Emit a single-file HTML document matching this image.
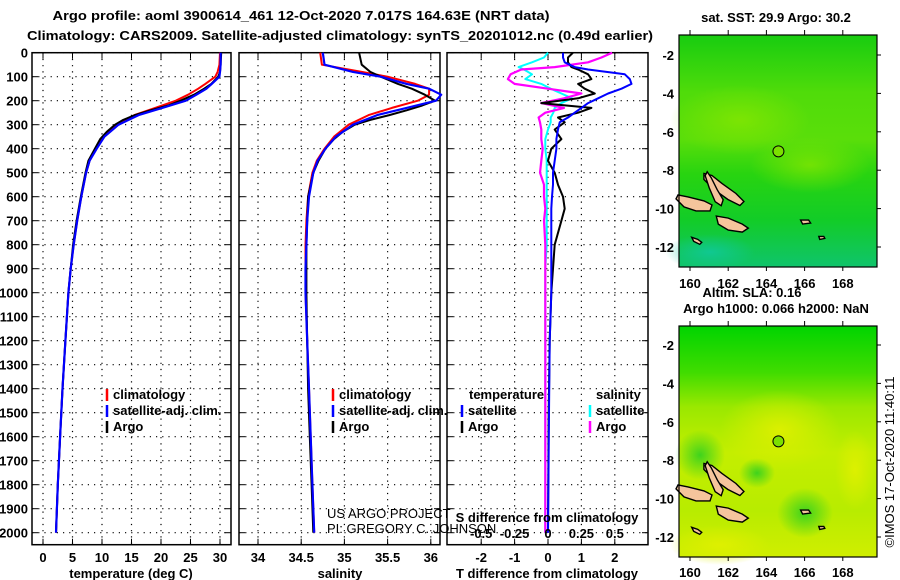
<!DOCTYPE html>
<html><head><meta charset="utf-8">
<style>
html,body{margin:0;padding:0;background:#fff;}
svg{display:block;font-family:"Liberation Sans",sans-serif;}
.b{font-weight:bold;font-size:13px;}
</style></head>
<body>
<svg id="chart" width="900" height="580" viewBox="0 0 900 580" xmlns="http://www.w3.org/2000/svg">
<defs>
<linearGradient id="m1g" x1="0" y1="0" x2="0" y2="1">
<stop offset="0" stop-color="#18cc10"/><stop offset="0.25" stop-color="#50dc0a"/><stop offset="0.45" stop-color="#5ade0a"/>
<stop offset="0.6" stop-color="#28d410"/><stop offset="0.8" stop-color="#12cc28"/><stop offset="1" stop-color="#10c46c"/>
</linearGradient>
<radialGradient id="m1b" cx="0.5" cy="0.5" r="0.5"><stop offset="0" stop-color="#8ce800" stop-opacity="0.7"/><stop offset="1" stop-color="#8ce800" stop-opacity="0"/></radialGradient>
<radialGradient id="m1c" cx="0.5" cy="0.5" r="0.5"><stop offset="0" stop-color="#10c8a0" stop-opacity="0.8"/><stop offset="1" stop-color="#10c8a0" stop-opacity="0"/></radialGradient>
<linearGradient id="m2g" x1="0" y1="0" x2="0" y2="1">
<stop offset="0" stop-color="#00d400"/><stop offset="0.2" stop-color="#40dc00"/><stop offset="0.35" stop-color="#9ae800"/>
<stop offset="0.55" stop-color="#c4ee00"/><stop offset="0.8" stop-color="#b8ec00"/><stop offset="1" stop-color="#d0ee00"/>
</linearGradient>
<radialGradient id="m2c" cx="0.5" cy="0.5" r="0.5"><stop offset="0" stop-color="#30d020" stop-opacity="0.9"/><stop offset="1" stop-color="#30d020" stop-opacity="0"/></radialGradient>
<radialGradient id="m2y" cx="0.5" cy="0.5" r="0.5"><stop offset="0" stop-color="#e0f000" stop-opacity="0.9"/><stop offset="1" stop-color="#e0f000" stop-opacity="0"/></radialGradient>
</defs>

<text class="b" x="301" y="20" text-anchor="middle" font-size="14" textLength="497" lengthAdjust="spacingAndGlyphs">Argo profile: aoml 3900614_461 12-Oct-2020 7.017S 164.63E (NRT data)</text>
<text class="b" x="340" y="40" text-anchor="middle" font-size="14" textLength="626" lengthAdjust="spacingAndGlyphs">Climatology: CARS2009. Satellite-adjusted climatology: synTS_20201012.nc (0.49d earlier)</text>

<g id="panels"></g>
<g id="maps"></g>

<text x="327" y="518" font-size="13" fill="#000">US ARGO PROJECT</text>
<text x="327" y="533" font-size="13" fill="#000">PI: GREGORY C. JOHNSON</text>
<text class="b" x="547" y="522" text-anchor="middle">S difference from climatology</text>

<text x="894" y="462" font-size="13" text-anchor="middle" transform="rotate(-90 894 462)">©IMOS 17-Oct-2020 11:40:11</text>
</svg>

<script>
// ---- data ----
const depthTicks = [0,100,200,300,400,500,600,700,800,900,1000,1100,1200,1300,1400,1500,1600,1700,1800,1900,2000];
const tTicks = [0,5,10,15,20,25,30];
const sTicks = [34,34.5,35,35.5,36];
const sTickLabels = ["34","34.5","35","35.5","36"];
const dtTicks = [-2,-1,0,1,2];
const dsTicks = [-0.5,-0.25,0,0.25,0.5];
const dsTickLabels = ["-0.5","-0.25","0","0.25","0.5"];

const argoDepth = [0,50,80,100,130,150,175,200,220,240,260,280,300,330,360,400,450,500,600,700,800,900,1000,1200,1400,1600,1800,2000];
const argoT    = [30.2,30.1,30.0,29.7,28.5,27.3,25.6,23.3,21.2,18.2,15.6,13.6,12.2,10.8,9.7,8.8,7.7,7.2,6.4,5.7,5.1,4.7,4.3,3.8,3.3,2.9,2.5,2.2];
const climDepth = [0,50,80,100,130,150,175,200,230,260,300,350,400,450,500,600,700,800,900,1000,1200,1400,1600,1800,2000];
const climT    = [30.0,29.9,29.6,29.2,27.5,26.3,24.6,22.5,19.0,15.5,12.4,10.2,9.0,7.9,7.3,6.5,5.8,5.2,4.7,4.3,3.8,3.3,2.9,2.5,2.2];
const satT     = [30.1,30.1,30.0,29.9,28.6,27.7,26.0,24.2,20.2,16.2,12.8,10.4,9.1,7.9,7.3,6.5,5.8,5.2,4.7,4.3,3.8,3.3,2.9,2.5,2.2];

const argoS    = [35.17,35.2,35.3,35.42,35.62,35.78,35.93,36.05,35.9,35.72,35.52,35.3,35.12,34.98,34.88,34.78,34.7,34.64,34.58,34.57,34.56,34.56,34.56,34.57,34.58,34.6,34.62,34.64];
const climS    = [34.72,34.74,35.2,35.5,35.82,35.98,35.98,35.85,35.55,35.28,35.05,34.88,34.77,34.68,34.63,34.58,34.56,34.55,34.55,34.55,34.57,34.59,34.61,34.63,34.65];
const satS     = [34.75,34.77,35.1,35.42,35.72,35.98,36.12,36.06,35.72,35.38,35.1,34.9,34.78,34.69,34.64,34.59,34.57,34.56,34.55,34.55,34.57,34.59,34.61,34.63,34.65];

const diffDepth = [0,20,40,60,70,90,110,130,150,170,190,210,230,250,270,290,320,360,400,450,500,550,600,650,700,800,900,1000,1200,1500,2000];
const dTsat  = [0.45,0.45,0.5,0.8,1.2,2.3,2.45,2.5,2.2,1.8,1.5,1.2,1.0,0.8,0.6,0.35,0.3,0.25,0.25,0.2,0.15,0.15,0.12,0.1,0.1,0.1,0.1,0.1,0.05,0.03,0.0];
const dTargo = [0.75,0.6,0.6,0.7,0.9,1.2,1.3,0.9,1.1,1.4,0.9,-0.2,1.3,0.9,0.3,0.5,0.2,0.4,0.1,0.0,0.2,0.3,0.45,0.5,0.4,0.2,0.15,0.1,0.05,0.02,0.0];
const dSsat  = [0.0,-0.03,-0.12,-0.22,-0.18,-0.12,-0.17,-0.05,0.02,0.1,0.18,0.1,0.05,0.04,0.02,0.02,0.0,-0.02,-0.02,-0.01,-0.01,-0.01,-0.01,-0.01,-0.01,-0.01,-0.02,-0.02,-0.02,-0.02,-0.02];
const dSargo = [0.48,0.4,0.3,0.05,-0.2,-0.28,-0.3,-0.25,0.0,0.25,0.12,-0.05,0.12,-0.02,-0.07,-0.06,-0.05,-0.05,-0.04,-0.05,-0.06,-0.03,-0.03,-0.02,-0.03,-0.02,-0.02,-0.02,-0.02,-0.02,-0.02];

// ---- geometry ----
const NS = "http://www.w3.org/2000/svg";
const yTop = 52.7, pxPerM = 0.24, yBot = yTop + 2050*pxPerM;
const yD = d => yTop + d*pxPerM;
const xT = t => 43 + t*5.9;
const xS = s => 258 + (s-34)*86.4;
const xDT = v => 548 + v*33.4;
const xDS = v => 548 + v*4*33.4;

function el(tag, attrs, parent){
  const e = document.createElementNS(NS, tag);
  for (const k in attrs) e.setAttribute(k, attrs[k]);
  parent.appendChild(e);
  return e;
}
const panels = document.getElementById('panels');

function panel(name, x0, x1, gridX){
  const g = el('g', {}, panels);
  
  
  depthTicks.forEach(d => {
    el('line', {x1:x0, x2:x1, y1:yD(d), y2:yD(d), stroke:'#000', 'stroke-width':1.2, 'stroke-dasharray':'1.2 5'}, g);
    el('line', {x1:x0, x2:x0+6, y1:yD(d), y2:yD(d), stroke:'#000', 'stroke-width':1}, g);
    el('line', {x1:x1-6, x2:x1, y1:yD(d), y2:yD(d), stroke:'#000', 'stroke-width':1}, g);
  });
  gridX.forEach(x => {
    el('line', {x1:x, x2:x, y1:yTop, y2:yBot, stroke:'#000', 'stroke-width':1.2, 'stroke-dasharray':'1.2 5'}, g);
    el('line', {x1:x, x2:x, y1:yTop, y2:yTop+6, stroke:'#000', 'stroke-width':1}, g);
    el('line', {x1:x, x2:x, y1:yBot-6, y2:yBot, stroke:'#000', 'stroke-width':1}, g);
  });
  const fr = el('rect', {x:x0, y:yTop, width:x1-x0, height:yBot-yTop, fill:'none', stroke:'#000', 'stroke-width':1.5}, g);
  
  
  return g;
}
function line(g, name, depths, vals, fx, color, w){
  const pts = vals.map((v,i)=> fx(v).toFixed(1)+','+yD(depths[i]).toFixed(1)).join(' ');
  const p = el('polyline', {points:pts, fill:'none', stroke:color, 'stroke-width':w, 'stroke-linejoin':'round'}, g);
  
  
}
function text(g, name, x, y, s, anchor, cls){
  const t = el('text', {x:x, y:y, 'text-anchor':anchor||'start', class:cls||'b'}, g);
  t.textContent = s;
  
  
  return t;
}
function legendTick(g, name, x, y, color){
  const l = el('line', {x1:x, x2:x, y1:y-11, y2:y+1, stroke:color, 'stroke-width':2.5}, g);
  
  
}

// depth axis labels
const dAx = el('g', {}, panels);


depthTicks.forEach(d => text(dAx, 'depth-tick-label', 28, yD(d)+5, String(d), 'end'));

// panel 1: temperature
const p1 = panel('temperature-panel', 32, 231, tTicks.map(xT));
line(p1, 'temperature-climatology-line', climDepth, climT, xT, '#ff0000', 2);
line(p1, 'temperature-argo-line', argoDepth, argoT, xT, '#000000', 2);
line(p1, 'temperature-satellite-line', climDepth, satT, xT, '#0000ff', 2.2);
tTicks.forEach(t => text(p1, 'temperature-tick-label', xT(t), 562, String(t), 'middle'));
text(p1, 'temperature-axis-title', 131, 578, 'temperature (deg C)', 'middle');
legendTick(p1, 'legend-climatology-marker', 107, 400, '#ff0000');
legendTick(p1, 'legend-satellite-marker', 107, 416, '#0000ff');
legendTick(p1, 'legend-argo-marker', 107, 432, '#000000');
text(p1, 'legend-climatology', 113, 399, 'climatology');
text(p1, 'legend-satellite', 113, 415, 'satellite-adj. clim.');
text(p1, 'legend-argo', 113, 431, 'Argo');

// panel 2: salinity
const p2 = panel('salinity-panel', 239, 440, sTicks.map(xS));
line(p2, 'salinity-climatology-line', climDepth, climS, xS, '#ff0000', 2);
line(p2, 'salinity-argo-line', argoDepth, argoS, xS, '#000000', 2);
line(p2, 'salinity-satellite-line', climDepth, satS, xS, '#0000ff', 2.2);
sTicks.forEach((s,i) => text(p2, 'salinity-tick-label', xS(s), 562, sTickLabels[i], 'middle'));
text(p2, 'salinity-axis-title', 340, 578, 'salinity', 'middle');
legendTick(p2, 'legend2-climatology-marker', 333, 400, '#ff0000');
legendTick(p2, 'legend2-satellite-marker', 333, 416, '#0000ff');
legendTick(p2, 'legend2-argo-marker', 333, 432, '#000000');
text(p2, 'legend2-climatology', 339, 399, 'climatology');
text(p2, 'legend2-satellite', 339, 415, 'satellite-adj. clim.');
text(p2, 'legend2-argo', 339, 431, 'Argo');

// panel 3: differences
const p3 = panel('difference-panel', 447, 648, dtTicks.map(xDT));
line(p3, 's-diff-satellite-line', diffDepth, dSsat, xDS, '#00ffff', 2);
line(p3, 's-diff-argo-line', diffDepth, dSargo, xDS, '#ff00ff', 2.2);
line(p3, 't-diff-argo-line', diffDepth, dTargo, xDT, '#000000', 2);
line(p3, 't-diff-satellite-line', diffDepth, dTsat, xDT, '#0000ff', 2);
dtTicks.forEach(v => text(p3, 't-diff-tick-label', xDT(v), 562, String(v), 'middle'));
dsTicks.forEach((v,i) => text(p3, 's-diff-tick-label', xDS(v), 538, dsTickLabels[i], 'middle'));
text(p3, 't-diff-axis-title', 547, 578, 'T difference from climatology', 'middle');
text(p3, 'legend3-temperature-header', 469, 399, 'temperature');
text(p3, 'legend3-salinity-header', 596, 399, 'salinity');
legendTick(p3, 'legend3-t-satellite-marker', 462, 416, '#0000ff');
legendTick(p3, 'legend3-t-argo-marker', 462, 432, '#000000');
text(p3, 'legend3-t-satellite', 468, 415, 'satellite');
text(p3, 'legend3-t-argo', 468, 431, 'Argo');
legendTick(p3, 'legend3-s-satellite-marker', 590, 416, '#00ffff');
legendTick(p3, 'legend3-s-argo-marker', 590, 432, '#ff00ff');
text(p3, 'legend3-s-satellite', 596, 415, 'satellite');
text(p3, 'legend3-s-argo', 596, 431, 'Argo');

// ---- maps ----
const lonTicks = [160,162,164,166,168];
const latTicks = [-2,-4,-6,-8,-10,-12];
const argoLon = 164.63, argoLat = -7.017;
const maps = document.getElementById('maps');
const xLon = lon => 690 + (lon-160)*19.1;

function map(name, top, lat2y, bottom, grad, blobs, title, titleY, lonLabelY){
  const g = el('g', {}, maps);
  
  
  const yLat = lat => lat2y + (-2 - lat)*19.2;
  el('rect', {x:679, y:top, width:198, height:bottom-top, fill:'url(#'+grad+')'}, g);
  blobs.forEach(b => el('ellipse', {cx:b[0], cy:b[1], rx:b[2], ry:b[3], fill:'url(#'+b[4]+')'}, g));
  const isl = [[162.3,-8.9,'M-30,-14 l8,2 l10,8 l14,10 l8,8 l-4,4 l-12,-6 l-14,-10 l-10,-10 z'],
               [160.9,-8.6,'M0,-10 l4,6 l6,12 l6,10 l-2,6 l-6,-4 l-6,-14 l-4,-12 z'],
               [160.0,-9.6,'M-12,-6 l10,2 l16,4 l8,4 l-2,6 l-14,0 l-12,-4 l-8,-8 z'],
               [161.9,-10.6,'M-10,-4 l12,2 l14,6 l6,4 l-6,4 l-14,-2 l-10,-6 z'],
               [166.0,-10.7,'M-4,-2 l8,0 l2,3 l-8,1 z'],
               [166.9,-11.5,'M-3,-1 l5,0 l1,2 l-5,1 z'],
               [160.3,-11.6,'M-4,-2 l6,2 l4,3 l-2,2 l-6,-3 z']];
  isl.forEach(i => {
    const p = el('path', {d:i[2], transform:'translate('+xLon(i[0])+','+yLat(i[1])+')', fill:'#f5c49c', stroke:'#000', 'stroke-width':1.4}, g);
    
    
  });
  const c = el('circle', {cx:xLon(argoLon), cy:yLat(argoLat), r:5.5, fill:'#7be000', stroke:'#000', 'stroke-width':1}, g);
  
  
  el('rect', {x:679, y:top, width:198, height:bottom-top, fill:'none', stroke:'#000', 'stroke-width':1.2}, g);
  lonTicks.forEach(l => {
    el('line', {x1:xLon(l), x2:xLon(l), y1:top, y2:top-5, stroke:'#000'}, g);
    el('line', {x1:xLon(l), x2:xLon(l), y1:bottom, y2:bottom+4, stroke:'#000'}, g);
    text(g, 'longitude-tick-label', xLon(l), lonLabelY, String(l), 'middle');
  });
  latTicks.forEach(l => {
    el('line', {x1:877, x2:881, y1:yLat(l), y2:yLat(l), stroke:'#000'}, g);
    text(g, 'latitude-tick-label', 674, yLat(l)+5, String(l), 'end');
  });
  title.forEach((t,i) => text(g, 'map-title', t[1], titleY[i], t[0], 'middle'));
}
map('sst-map', 35, 55, 267, 'm1g',
  [[740,120,70,35,'m1b'],[810,165,60,28,'m1b'],[710,252,45,18,'m1c']],
  [['sat. SST: 29.9 Argo: 30.2', 776]], [22], 288);
map('sla-map', 326, 345, 557, 'm2g',
  [[700,455,25,25,'m2c'],[757,473,18,15,'m2c'],[780,430,60,40,'m2y'],[720,545,50,20,'m2y'],[855,470,20,40,'m2y'],[805,513,28,25,'m2c']],
  [['Altim. SLA: 0.16', 752],['Argo h1000: 0.066 h2000: NaN', 776]], [297, 313], 577);
</script>
</body></html>
